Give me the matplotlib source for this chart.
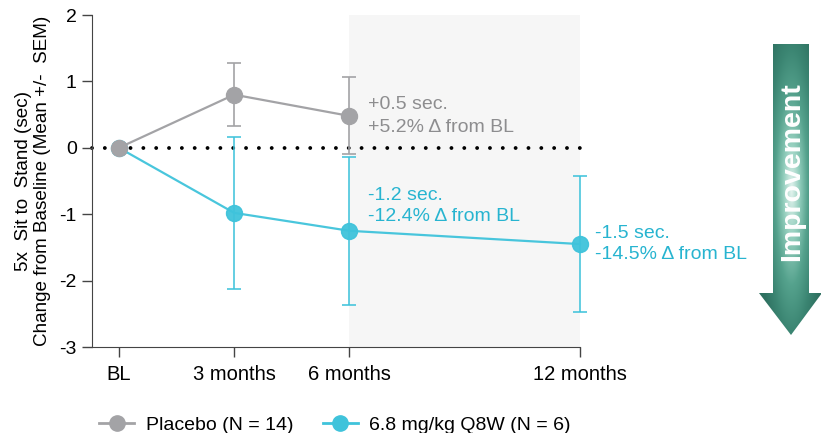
import numpy as np
import matplotlib
matplotlib.use("Agg")
import matplotlib.pyplot as plt
from matplotlib.patches import Polygon
from matplotlib.lines import Line2D
from matplotlib.colors import LinearSegmentedColormap

plt.rcParams['font.family'] = ['Liberation Sans', 'DejaVu Sans']

# ---- data ----
timepoints = [0, 3, 6, 12]
tick_labels = ["BL", "3 months", "6 months", "12 months"]

placebo_x = [0, 3, 6]
placebo_mean = [0.0, 0.80, 0.48]
placebo_sem = [0.0, 0.47, 0.58]

treat_x = [0, 3, 6, 12]
treat_mean = [0.0, -0.98, -1.25, -1.45]
treat_sem = [0.0, 1.15, 1.11, 1.02]

placebo_label = "Placebo (N = 14)"
treat_label = "6.8 mg/kg Q8W (N = 6)"
placebo_note = "+0.5 sec.\n+5.2% \u0394 from BL"
treat_note_6 = "-1.2 sec.\n-12.4% \u0394 from BL"
treat_note_12 = "-1.5 sec.\n-14.5% \u0394 from BL"

GREY = "#a3a3a6"
CYAN = "#3fc3db"

W, H = 821, 433
fig = plt.figure(figsize=(W / 100, H / 100), dpi=100)
ax = fig.add_axes([92 / W, (H - 347) / H, (580 - 92) / W, (347 - 15) / H])

ax.set_xlim(-0.70, 12)
ax.set_ylim(-3, 2)

# shaded region
ax.axvspan(6, 12, color="#f6f6f6", zorder=0, lw=0)

# dotted zero line
ax.plot([-0.7, 12], [0, 0], color="black", lw=2.8, dashes=[0.001, 3.30],
        dash_capstyle="round", zorder=1, clip_on=False)

# placebo
pl = ax.errorbar(placebo_x, placebo_mean, yerr=placebo_sem, color=GREY, lw=1.6,
                 elinewidth=1.2, capsize=5, capthick=1.2, marker="o", ms=11.5,
                 mfc=GREY, mec=GREY, zorder=3)
# treatment
tr = ax.errorbar(treat_x, treat_mean, yerr=treat_sem, color=CYAN, lw=1.6,
                 elinewidth=1.2, capsize=5, capthick=1.2, marker="o", ms=11.5,
                 mfc=CYAN, mec=CYAN, zorder=2, alpha=0.95)
for cont in (pl, tr):
    for art in cont.lines[1]:
        art.set_clip_on(False)
    for art in cont.lines[2]:
        art.set_clip_on(False)
    cont.lines[0].set_clip_on(False)

# annotations
ax.annotate(placebo_note, (placebo_x[2], placebo_mean[2]), xytext=(13, 0),
            textcoords="offset points", va="center", ha="left", fontsize=14,
            color="#8d8d8f", linespacing=1.4)
ax.annotate(treat_note_6, (treat_x[2], treat_mean[2]), xytext=(13, 18),
            textcoords="offset points", va="center", ha="left", fontsize=14,
            color="#27b4d0", linespacing=1.27)
ax.annotate(treat_note_12, (treat_x[3], treat_mean[3]), xytext=(11, 0),
            textcoords="offset points", va="center", ha="left", fontsize=14,
            color="#27b4d0", linespacing=1.35)

# axes styling
for s in ["top", "right"]:
    ax.spines[s].set_visible(False)
ax.spines["left"].set_color("#444444")
ax.spines["bottom"].set_color("#444444")
ax.set_xticks(timepoints)
ax.set_xticklabels(tick_labels, fontsize=14.5)
ax.set_yticks([-3, -2, -1, 0, 1, 2])
ax.set_yticklabels(["-3", "-2", "-1", "0", "1", "2"], fontsize=14)
ax.tick_params(direction="out", length=7, width=1, color="#444444", pad=4)
ax.tick_params(axis="x", pad=6)
ax.set_ylabel("5x  Sit to  Stand (sec)\nChange from Baseline (Mean +/-  SEM)",
              fontsize=13.6, labelpad=6, linespacing=1.15)

# legend
h1 = Line2D([], [], color=GREY, lw=2, marker="o", ms=11, mfc=GREY, mec=GREY)
h2 = Line2D([], [], color=CYAN, lw=2, marker="o", ms=11, mfc=CYAN, mec=CYAN)
fig.legend(handles=[h1, h2], labels=[placebo_label, treat_label], loc="center",
           bbox_to_anchor=(335 / W, 1 - 425 / H), ncol=2, frameon=False,
           fontsize=14, handlelength=1.8, columnspacing=1.5,
           handletextpad=0.6)

# improvement arrow (overlay in pixel coords)
ov = fig.add_axes([0, 0, 1, 1], zorder=5)
ov.set_xlim(0, W)
ov.set_ylim(H, 0)
ov.axis("off")
poly = [(773, 44), (809, 44), (809, 293), (822, 293), (791, 335),
        (759, 293), (773, 293)]
patch = Polygon(poly, closed=True, fc="none", ec="none")
ov.add_patch(patch)
xs = np.linspace(755, 825, 140)
ys = np.linspace(40, 340, 600)
X, Y = np.meshgrid(xs, ys)
r = np.sqrt(((X - 791) / 32.0) ** 2 + ((Y - 190) / 190.0) ** 2)
r = np.clip(r, 0, 1)
cmap = LinearSegmentedColormap.from_list(
    "arr", ["#e2f3ee", "#93cebd", "#55a28d", "#3b8572", "#2e7060"])
im = ov.imshow(r, extent=(755, 825, 340, 40), cmap=cmap, vmin=0, vmax=1,
               interpolation="bilinear", aspect="auto", zorder=5)
im.set_clip_path(patch)
ov.text(792, 172, "Improvement", rotation=90, color="white", fontsize=20.5,
        fontweight="bold", ha="center", va="center", zorder=6)
ov.set_xlim(0, W)
ov.set_ylim(H, 0)

fig.savefig("out.png", dpi=100)
